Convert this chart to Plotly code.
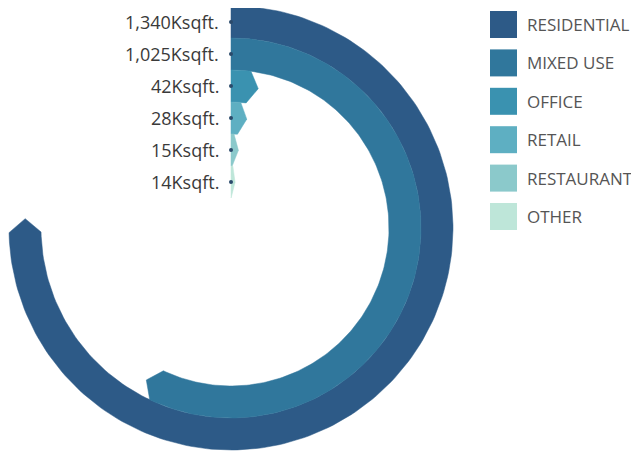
import numpy as np
import plotly.graph_objects as go

categories = ["RESIDENTIAL", "MIXED USE", "OFFICE", "RETAIL", "RESTAURANT", "OTHER"]
values = [1340, 1025, 42, 28, 15, 14]          # Ksqft
value_labels = ["1,340Ksqft.", "1,025Ksqft.", "42Ksqft.", "28Ksqft.", "15Ksqft.", "14Ksqft."]
colors = ["#2d5a87", "#30779c", "#3a92b0", "#5eafc2", "#8bc9cb", "#bee6d9"]

W, H = 639, 454
OFF = 8                      # page body margin offset
CX, CY = 231 - OFF, 228 - OFF  # pixel centre of the rings within the figure
R_OUT, BAND = 222, 32
MAX_DEG = 270.0              # largest value spans 3/4 of the circle

fig = go.Figure()

def pt(angle_deg, r):
    a = np.radians(angle_deg)
    return r * np.sin(a), r * np.cos(a)

for i, (cat, v, col, lab) in enumerate(zip(categories, values, colors, value_labels)):
    r1 = R_OUT - i * BAND
    r0 = r1 - BAND
    rm = (r0 + r1) / 2
    a = v / max(values) * MAX_DEG
    corner = max(a - 1.2, a * 0.6)
    tip = a + min(2.6, a * 0.8)
    th_out = np.linspace(0, corner, 200)
    xs, ys = [], []
    for t in th_out:
        x, y = pt(t, r1); xs.append(x); ys.append(y)
    x, y = pt(tip, rm); xs.append(x); ys.append(y)
    for t in th_out[::-1]:
        x, y = pt(t, r0); xs.append(x); ys.append(y)
    xs.append(xs[0]); ys.append(ys[0])
    fig.add_trace(go.Scatter(x=xs, y=ys, fill="toself", fillcolor=col, mode="lines",
                             line=dict(color=col, width=0.5), name=cat, hoverinfo="name",
                             showlegend=False))
    fig.add_trace(go.Scatter(x=[0], y=[rm], mode="markers",
                             marker=dict(size=4, color="#2b4a6b"), showlegend=False,
                             hoverinfo="skip"))
    fig.add_annotation(x=-10, y=rm, text=lab, showarrow=False, xanchor="right",
                       yanchor="middle", font=dict(family="Open Sans", size=18, color="#3a3a3a"))

# legend drawn manually
for i, (cat, col) in enumerate(zip(categories, colors)):
    top = 11 + i * 38.4 - OFF
    fig.add_shape(type="rect", xref="paper", yref="paper",
                  x0=(490 - OFF) / W, x1=(517 - OFF) / W, y0=1 - (top + 27) / H, y1=1 - top / H,
                  fillcolor=col, line=dict(width=0))
    fig.add_annotation(xref="paper", yref="paper", x=(525 - OFF) / W, y=1 - (top + 13.5) / H,
                       text=cat, showarrow=False, xanchor="left", yanchor="middle",
                       font=dict(family="Open Sans", size=17, color="#555555"))

fig.update_layout(
    width=W, height=H, autosize=False,
    margin=dict(l=0, r=0, t=0, b=0),
    paper_bgcolor="white", plot_bgcolor="white",
    xaxis=dict(range=[-CX, W - CX], visible=False, fixedrange=True),
    yaxis=dict(range=[-(H - CY), CY], visible=False, fixedrange=True),
    showlegend=False,
)

fig.write_html("out.html")
